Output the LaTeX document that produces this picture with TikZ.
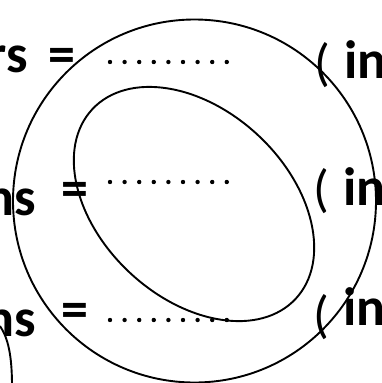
\documentclass[tikz,border=0pt]{standalone}
\usepackage{fontspec}
\setmainfont{Carlito}
\begin{document}
\begin{tikzpicture}[x=1pt,y=-1pt,
  lbl/.style={inner sep=0pt,font=\fontsize{54}{60}\selectfont\bfseries},
  par/.style={inner sep=0pt,font=\fontsize{52}{60}\selectfont},
  curve/.style={line width=1.9pt},
  dotmark/.style={fill=black}]
\useasboundingbox (0,0) rectangle (382,383);
\clip (0,0) rectangle (382,383);
\fill[white] (0,0) rectangle (382,383);
% row 1
\node[lbl,anchor=base east] (l1) at (28,72) {rs};
\node[lbl] (e1) at (62,60) {=};
\node[par] (p1) at (322,65) {(};
\node[lbl,anchor=base west] (i1) at (344,78) {in};
% row 2
\node[lbl,anchor=base east] (l2) at (36,215) {ns};
\node[lbl] (e2) at (75,194) {=};
\node[par] (p2) at (321,191) {(};
\node[lbl,anchor=base west] (i2) at (343,205) {in};
% row 3
\node[lbl,anchor=base east] (l3) at (36,336) {ns};
\node[lbl] (e3) at (75,315) {=};
\node[par] (p3) at (321,317) {(};
\node[lbl,anchor=base west] (i3) at (343,325) {in};
% dotted leaders
\foreach \y in {62,182,320}{
  \foreach \k in {0,...,8}{
    \fill[dotmark] (110+14.6*\k,\y) circle[radius=2.2pt];
  }
}
% shapes
\coordinate (oc) at (194.5,201);
\coordinate (ic) at (194,204);
\draw[curve] (oc) circle[radius=181.5pt];
\draw[curve,rotate around={-43:(ic)}] (ic) ellipse[x radius=139pt,y radius=94pt];
\coordinate (s0) at (0,326);
\coordinate (s1) at (12,386);
\draw[curve] (s0) .. controls (8,338) and (12,355) .. (s1);
\end{tikzpicture}
\end{document}
